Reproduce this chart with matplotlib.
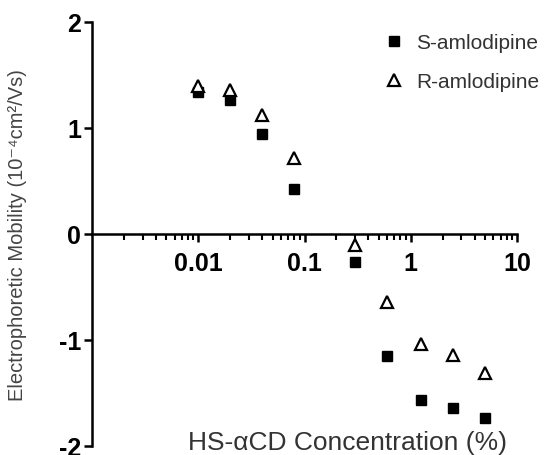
import matplotlib
matplotlib.use("Agg")
import matplotlib.pyplot as plt
from matplotlib.ticker import LogLocator, FixedLocator, NullFormatter, FixedFormatter

plt.rcParams['font.family'] = ['Liberation Sans', 'DejaVu Sans']

conc = [0.01, 0.02, 0.04, 0.08, 0.3, 0.6, 1.25, 2.5, 5.0]
s_mob = [1.34, 1.26, 0.94, 0.42, -0.26, -1.15, -1.57, -1.64, -1.74]
r_mob = [1.40, 1.36, 1.12, 0.72, -0.10, -0.64, -1.04, -1.14, -1.31]
x_ticks = [0.01, 0.1, 1, 10]
x_ticklabels = ["0.01", "0.1", "1", "10"]
y_ticks = [-2, -1, 0, 1, 2]

fig = plt.figure(figsize=(5.45, 4.56), dpi=100)
ax = fig.add_axes([92/545, 1-447/456, (517-92)/545, (447-23)/456])
ax.set_xscale('log')
ax.set_xlim(0.001, 10)
ax.set_ylim(-2, 2)

ax.plot(conc, s_mob, linestyle='none', marker='s', ms=7, color='black',
        label='S-amlodipine', clip_on=False)
ax.plot(conc, r_mob, linestyle='none', marker='^', ms=9, mfc='white', mec='black',
        mew=1.6, label='R-amlodipine', clip_on=False)

for side in ['top', 'right']:
    ax.spines[side].set_visible(False)
ax.spines['bottom'].set_position(('data', 0))
ax.spines['left'].set_linewidth(1.8)
ax.spines['bottom'].set_linewidth(1.8)

ax.xaxis.set_major_locator(FixedLocator(x_ticks))
ax.xaxis.set_major_formatter(FixedFormatter(x_ticklabels))
ax.xaxis.set_minor_locator(LogLocator(base=10, subs=[2, 3, 4, 5, 6, 7, 8, 9], numticks=20))
ax.xaxis.set_minor_formatter(NullFormatter())
ax.set_yticks(y_ticks)
ax.set_yticklabels([str(v) for v in y_ticks])

ax.tick_params(axis='x', which='major', direction='out', length=6, width=1.8, pad=6,
               labelsize=18)
ax.tick_params(axis='x', which='minor', direction='out', length=4, width=1.5)
ax.tick_params(axis='y', which='major', direction='out', length=6, width=1.8, pad=2,
               labelsize=18)
for lab in ax.get_xticklabels() + ax.get_yticklabels():
    lab.set_fontweight('bold')

fig.text(0.032, (1 - 235/456), 'Electrophoretic Mobility (10⁻⁴cm²/Vs)', rotation=90,
         ha='center', va='center', fontsize=14.5, color='#444444')
fig.text(348/545, 1 - 443/456, 'HS-αCD Concentration (%)', ha='center', va='center',
         fontsize=19, color='#333333')

ax.legend(loc='upper left', bbox_to_anchor=(371/545, 1 - 24/456),
          bbox_transform=fig.transFigure, frameon=False, fontsize=15,
          handletextpad=0.45, labelspacing=0.95, handlelength=1.2, borderpad=0,
          labelcolor='#333333')

fig.savefig('out.png', dpi=100)
